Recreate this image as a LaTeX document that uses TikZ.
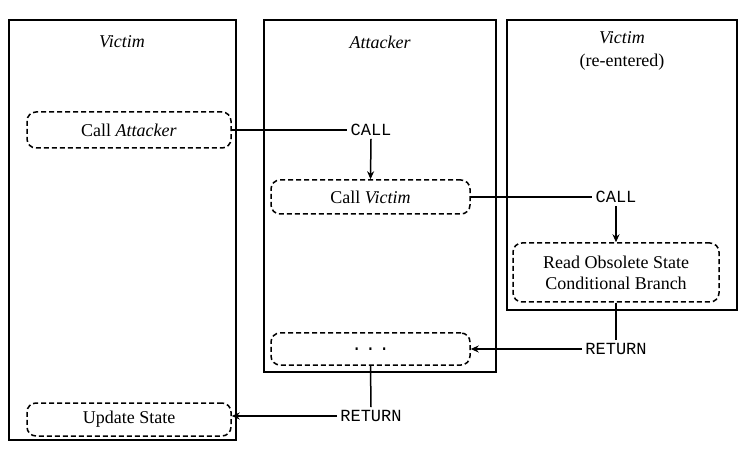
\documentclass[tikz,border=0pt]{standalone}
\usepackage{fontspec}
\setmainfont{Liberation Serif}
\setmonofont{Liberation Mono}
\usetikzlibrary{arrows.meta}
\begin{document}
\begin{tikzpicture}[x=1pt,y=-1pt,
  frame/.style={draw,line width=1.5pt},
  dbox/.style={draw,dash pattern=on 5pt off 3pt,line width=1.5pt,rounded corners=9pt,font=\fontsize{18}{21}\selectfont,align=center},
  kw/.style={font=\ttfamily\fontsize{17}{19}\selectfont,inner sep=3pt},
  ttl/.style={font=\itshape\fontsize{18}{21}\selectfont},
  con/.style={line width=1.5pt},
  arr/.style={line width=1.5pt,-{Stealth[length=8pt,width=7pt]}}]
\useasboundingbox (0,0) rectangle (747,462);
\draw[frame] (9,20) rectangle (236,440);
\draw[frame] (264,20) rectangle (496,372);
\draw[frame] (507,20) rectangle (737,310);
\node[ttl] (t1) at (122,42) {Victim};
\node[ttl] (t2) at (380,42) {Attacker};
\node[ttl] (t3) at (622,38) {Victim};
\node[font=\fontsize{18}{21}\selectfont] (t4) at (622,62) {(re-entered)};
\node[dbox,minimum width=204pt,minimum height=36pt] (ca) at (129,130) {Call \textit{Attacker}};
\node[dbox,minimum width=199pt,minimum height=34pt] (cv) at (370.5,197) {Call \textit{Victim}};
\node[dbox,minimum width=206pt,minimum height=59pt] (ro) at (616,272.5) {Read Obsolete State\\Conditional Branch};
\node[dbox,minimum width=199pt,minimum height=32pt] (dd) at (370.5,349) {\texttt{.\,.\,.}};
\node[dbox,minimum width=204pt,minimum height=33pt] (us) at (129,419.5) {Update State};
\node[kw] (k1) at (371,130) {CALL};
\node[kw] (k2) at (616,197) {CALL};
\node[kw] (k3) at (616,349) {RETURN};
\node[kw] (k4) at (371,416) {RETURN};
\draw[con] (ca.east) -- (k1.west);
\draw[arr] (k1.south) -- (cv.north);
\draw[con] (cv.east) -- (k2.west);
\draw[arr] (k2.south) -- (ro.north);
\draw[con] (ro.south) -- (k3.north);
\draw[arr] (k3.west) -- (dd.east);
\draw[con] (dd.south) -- (k4.north);
\draw[arr] (k4.west) -- (us.east |- k4.west);
\end{tikzpicture}
\end{document}
